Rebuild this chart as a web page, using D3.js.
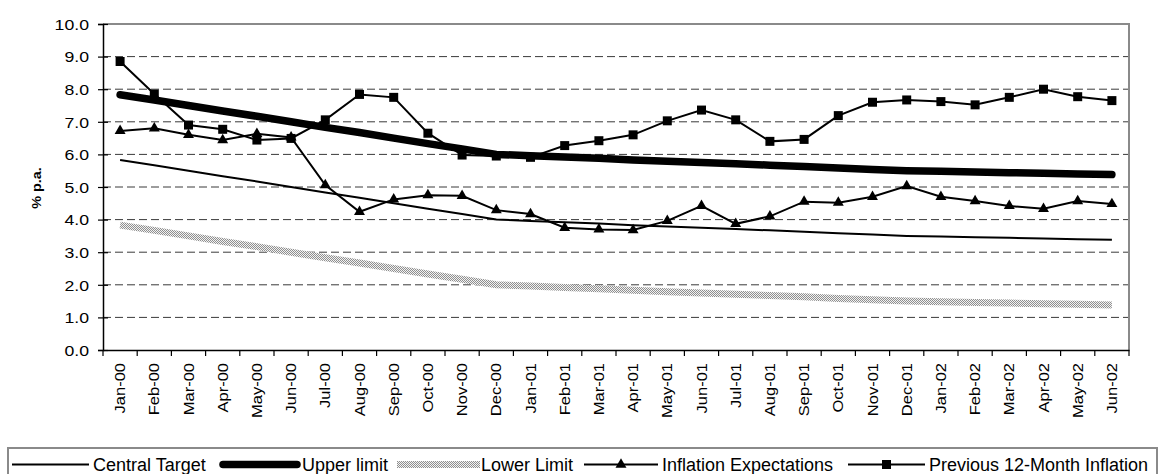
<!DOCTYPE html>
<html>
<head>
<meta charset="utf-8">
<script src="https://cdn.jsdelivr.net/npm/d3@7"></script>
<style>
  html, body { margin: 0; padding: 0; background: #fff; }
  svg { display: block; font-family: "Liberation Sans", Arial, sans-serif; }
</style>
</head>
<body>
<svg id="chart" width="1160" height="474"></svg>
<script>
// ---------------- data ----------------
const categories = ["Jan-00","Feb-00","Mar-00","Apr-00","May-00","Jun-00","Jul-00","Aug-00","Sep-00","Oct-00","Nov-00","Dec-00",
  "Jan-01","Feb-01","Mar-01","Apr-01","May-01","Jun-01","Jul-01","Aug-01","Sep-01","Oct-01","Nov-01","Dec-01",
  "Jan-02","Feb-02","Mar-02","Apr-02","May-02","Jun-02"];

const centralTarget = [5.83,5.67,5.50,5.33,5.17,5.00,4.83,4.67,4.50,4.33,4.17,4.00,
  3.96,3.92,3.88,3.83,3.79,3.75,3.71,3.67,3.63,3.58,3.54,3.50,
  3.48,3.46,3.44,3.42,3.40,3.38];

const upperLimit = [7.83,7.67,7.50,7.33,7.17,7.00,6.83,6.67,6.50,6.33,6.17,6.00,
  5.96,5.92,5.88,5.83,5.79,5.75,5.71,5.67,5.63,5.58,5.54,5.50,
  5.48,5.46,5.44,5.42,5.40,5.38];

const lowerLimit = [3.83,3.67,3.50,3.33,3.17,3.00,2.83,2.67,2.50,2.33,2.17,2.00,
  1.96,1.92,1.88,1.83,1.79,1.75,1.71,1.67,1.63,1.58,1.54,1.50,
  1.48,1.46,1.44,1.42,1.40,1.38];

const inflationExpectations = [6.72,6.80,6.60,6.44,6.63,6.52,5.06,4.24,4.62,4.75,4.73,4.29,
  4.17,3.75,3.70,3.68,3.96,4.42,3.87,4.10,4.55,4.52,4.70,5.03,
  4.70,4.57,4.42,4.33,4.57,4.48];

const previousInflation = [8.85,7.85,6.90,6.77,6.44,6.49,7.06,7.84,7.75,6.65,5.98,5.95,
  5.91,6.27,6.42,6.60,7.03,7.36,7.06,6.40,6.46,7.19,7.60,7.67,
  7.62,7.52,7.75,8.00,7.77,7.65];

const yTickValues = [0,1,2,3,4,5,6,7,8,9,10];
const yTickLabels = ["0.0","1.0","2.0","3.0","4.0","5.0","6.0","7.0","8.0","9.0","10.0"];
const yAxisTitle = "% p.a.";
const seriesNames = ["Central Target","Upper limit","Lower Limit","Inflation Expectations","Previous 12-Month Inflation"];

// ---------------- layout ----------------
const plot = { left: 103, right: 1129, top: 24, bottom: 350 };
const svg = d3.select("#chart");

const defs = svg.append("defs");
const pat = defs.append("pattern").attr("id","stipple").attr("patternUnits","userSpaceOnUse")
  .attr("width",2).attr("height",2);
pat.append("rect").attr("width",2).attr("height",2).attr("fill","#f2f2f2");
pat.append("rect").attr("x",0).attr("y",0).attr("width",1).attr("height",1).attr("fill","#8f8f8f");
pat.append("rect").attr("x",1).attr("y",1).attr("width",1).attr("height",1).attr("fill","#8f8f8f");

const x = d3.scaleBand().domain(categories).range([plot.left, plot.right]).padding(0);
const xc = d => x(d) + x.bandwidth()/2;
const y = d3.scaleLinear().domain([0,10]).range([plot.bottom, plot.top]);

// gridlines
svg.append("g").selectAll("line").data(yTickValues.filter(v => v > 0 && v < 10)).join("line")
  .attr("x1", plot.left).attr("x2", plot.right)
  .attr("y1", d => y(d)).attr("y2", d => y(d))
  .attr("stroke", "#3a3a3a").attr("stroke-width", 1).attr("stroke-dasharray", "8,4");

// plot border top/right (gray)
svg.append("path")
  .attr("d", `M${plot.left},${y(10)}H${plot.right}V${plot.bottom}`)
  .attr("fill","none").attr("stroke","#8a8a8a").attr("stroke-width",2);

// y axis
const yAxis = d3.axisLeft(y).tickValues(yTickValues).tickFormat((d,i) => yTickLabels[i]).tickSize(5);
const gy = svg.append("g").attr("transform", `translate(${plot.left},0)`).call(yAxis);
gy.attr("font-size", null).attr("font-family", null);
gy.select(".domain").attr("stroke","#000").attr("stroke-width",1.5);
gy.selectAll(".tick line").attr("x1",5).attr("x2",-5).attr("stroke","#000").attr("stroke-width",1.2);
gy.selectAll(".tick text")
  .attr("x", null).attr("dy","0.36em")
  .attr("transform","translate(-14,0) scale(1.22,1)")
  .style("font-size","14.5px").style("font-family","'Liberation Sans', Arial, sans-serif")
  .attr("fill","#000");

// x axis (labels at band centers)
const xAxis = d3.axisBottom(x).tickSize(0);
const gx = svg.append("g").attr("transform", `translate(0,${plot.bottom})`).call(xAxis);
gx.attr("font-size", null).attr("font-family", null);
gx.select(".domain").attr("stroke","#000").attr("stroke-width",1.5);
gx.selectAll(".tick text")
  .attr("y", null).attr("x", null).attr("dy","0.36em")
  .attr("text-anchor","end")
  .attr("transform","translate(0,13) rotate(-90) scale(1.18,1)")
  .style("font-size","14px").style("font-family","'Liberation Sans', Arial, sans-serif")
  .attr("fill","#000");
// x tick marks at band boundaries
const boundaries = categories.map(c => x(c)).concat([x.range()[1]]);
svg.append("g").selectAll("line").data(boundaries).join("line")
  .attr("x1", d => d).attr("x2", d => d)
  .attr("y1", plot.bottom).attr("y2", plot.bottom + 6)
  .attr("stroke","#000").attr("stroke-width",1.2);

// y axis title
svg.append("text")
  .attr("transform", `translate(41,188) rotate(-90) scale(1.15,1)`)
  .attr("text-anchor","middle")
  .style("font-size","12.5px").style("font-weight","bold")
  .attr("fill","#000")
  .text(yAxisTitle);

// ---------------- series ----------------
const line = d3.line().x((d,i) => xc(categories[i])).y(d => y(d));

svg.append("path").datum(centralTarget).attr("d", line)
  .attr("fill","none").attr("stroke","#000").attr("stroke-width",2);

svg.append("path").datum(upperLimit).attr("d", line)
  .attr("fill","none").attr("stroke","#000").attr("stroke-width",7.5)
  .attr("stroke-linecap","round").attr("stroke-linejoin","round");

svg.append("path").datum(lowerLimit).attr("d", line)
  .attr("fill","none").attr("stroke","url(#stipple)").attr("stroke-width",7);

svg.append("path").datum(inflationExpectations).attr("d", line)
  .attr("fill","none").attr("stroke","#000").attr("stroke-width",2);
svg.append("g").selectAll("path").data(inflationExpectations).join("path")
  .attr("transform", (d,i) => `translate(${xc(categories[i])},${y(d)})`)
  .attr("d", d3.symbol(d3.symbolTriangle, 52))
  .attr("fill","#000");

svg.append("path").datum(previousInflation).attr("d", line)
  .attr("fill","none").attr("stroke","#000").attr("stroke-width",2);
svg.append("g").selectAll("path").data(previousInflation).join("path")
  .attr("transform", (d,i) => `translate(${xc(categories[i])},${y(d)})`)
  .attr("d", d3.symbol(d3.symbolSquare, 81))
  .attr("fill","#000");

// ---------------- legend ----------------
const lg = svg.append("g");
lg.append("rect").attr("x",8).attr("y",448).attr("width",1149).attr("height",40)
  .attr("fill","#fff").attr("stroke","#8a8a8a").attr("stroke-width",2);
const ly = 464.5;
const legendItems = [
  { name: seriesNames[0], x1: 12,  x2: 89,  text: 93,  style: "thin" },
  { name: seriesNames[1], x1: 223, x2: 297, text: 302, style: "thick" },
  { name: seriesNames[2], x1: 397, x2: 480, text: 481, style: "stipple" },
  { name: seriesNames[3], x1: 584, x2: 658, text: 662, style: "tri" },
  { name: seriesNames[4], x1: 848, x2: 925, text: 929, style: "sq" }
];
legendItems.forEach(it => {
  if (it.style === "thick") {
    lg.append("line").attr("x1",it.x1).attr("x2",it.x2).attr("y1",ly).attr("y2",ly)
      .attr("stroke","#000").attr("stroke-width",7.5).attr("stroke-linecap","round");
  } else if (it.style === "stipple") {
    lg.append("line").attr("x1",it.x1).attr("x2",it.x2).attr("y1",ly).attr("y2",ly)
      .attr("stroke","url(#stipple)").attr("stroke-width",7);
  } else {
    lg.append("line").attr("x1",it.x1).attr("x2",it.x2).attr("y1",ly).attr("y2",ly)
      .attr("stroke","#000").attr("stroke-width",2);
  }
  const mid = (it.x1 + it.x2)/2;
  if (it.style === "tri") {
    lg.append("path").attr("transform",`translate(${mid},${ly})`)
      .attr("d", d3.symbol(d3.symbolTriangle, 52)).attr("fill","#000");
  }
  if (it.style === "sq") {
    lg.append("path").attr("transform",`translate(${mid},${ly})`)
      .attr("d", d3.symbol(d3.symbolSquare, 81)).attr("fill","#000");
  }
  lg.append("text").attr("x", it.text).attr("y", 471)
    .style("font-size","18px").attr("fill","#000").text(it.name);
});
</script>
</body>
</html>
